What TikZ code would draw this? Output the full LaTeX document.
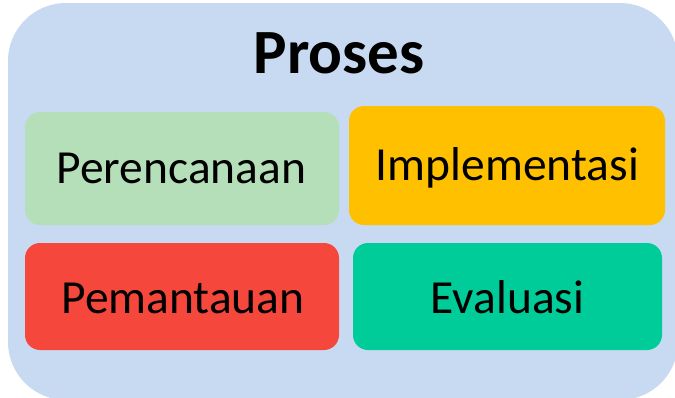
\documentclass[tikz,border=0pt]{standalone}
\usepackage{fontspec}
\setmainfont{Carlito}
\definecolor{panelblue}{HTML}{C8DAF1}
\definecolor{plangreen}{HTML}{B5DFB9}
\definecolor{implorange}{HTML}{FFC000}
\definecolor{monred}{HTML}{F5473B}
\definecolor{evalteal}{HTML}{00CC99}
\tikzset{
  panel/.style={fill=panelblue, draw=none, rounded corners=58pt},
  card/.style={draw=none, rounded corners=15pt},
  cardtext/.style={anchor=base, inner sep=0pt, font=\fontsize{47.5}{52}\selectfont, text=black},
  titletext/.style={anchor=base, inner sep=0pt, font=\bfseries\fontsize{63}{67}\selectfont, text=black}
}
\begin{document}
\begin{tikzpicture}[x=1pt, y=-1pt]
  \useasboundingbox (0,0) rectangle (675,397);
  \clip (0,0) rectangle (675,397);
  % outer panel
  \fill[panel] (8,3) rectangle (678,400);
  % title
  \node[titletext] (title) at (339,73) {Proses};
  % four process cards
  \fill[card, fill=plangreen]  (25,112)  rectangle (339,225);
  \fill[card, fill=implorange] (349,106) rectangle (665,225);
  \fill[card, fill=monred]     (25,243)  rectangle (339,350);
  \fill[card, fill=evalteal]   (353,243) rectangle (662,350);
  \node[cardtext] (plan) at (181.5,183) {Perencanaan};
  \node[cardtext] (impl) at (507.5,180) {Implementasi};
  \node[cardtext] (mon)  at (183,313) {Pemantauan};
  \node[cardtext] (eval) at (507.5,313) {Evaluasi};
\end{tikzpicture}
\end{document}
